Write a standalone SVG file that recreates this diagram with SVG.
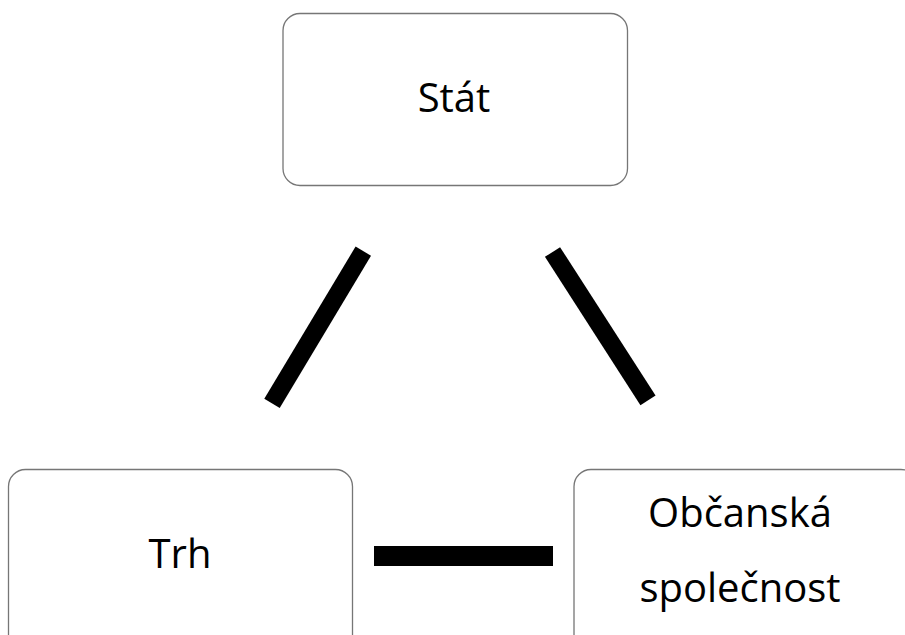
<svg xmlns="http://www.w3.org/2000/svg" width="905" height="635" viewBox="0 0 905 635">
<style>
.box{fill:#fff;stroke:#767676;stroke-width:1.3}
.lbl{font-family:"Open Sans","Noto Sans","Liberation Sans",sans-serif;font-size:40px;fill:#000;text-anchor:middle}
.conn{stroke:#000;stroke-linecap:butt;fill:none}
</style>
<rect width="905" height="635" fill="#fff"/>
<g id="stat">
<rect class="box" x="283" y="13.5" width="344.5" height="172" rx="17"/>
<text class="lbl" x="454" y="112">Stát</text>
</g>
<g id="trh">
<rect class="box" x="8.5" y="469.5" width="344" height="200" rx="17"/>
<text class="lbl" x="180" y="568">Trh</text>
</g>
<g id="obcanska">
<rect class="box" x="574" y="469.5" width="344" height="200" rx="17"/>
<text class="lbl" x="740" y="527">Občanská</text>
<text class="lbl" x="740" y="602">společnost</text>
</g>
<g id="connectors">
<line class="conn" x1="363.3" y1="251.2" x2="272" y2="403.3" stroke-width="18"/>
<line class="conn" x1="552.5" y1="252" x2="648" y2="400.3" stroke-width="18"/>
<line class="conn" x1="374" y1="556" x2="553" y2="556" stroke-width="20"/>
</g>
</svg>
